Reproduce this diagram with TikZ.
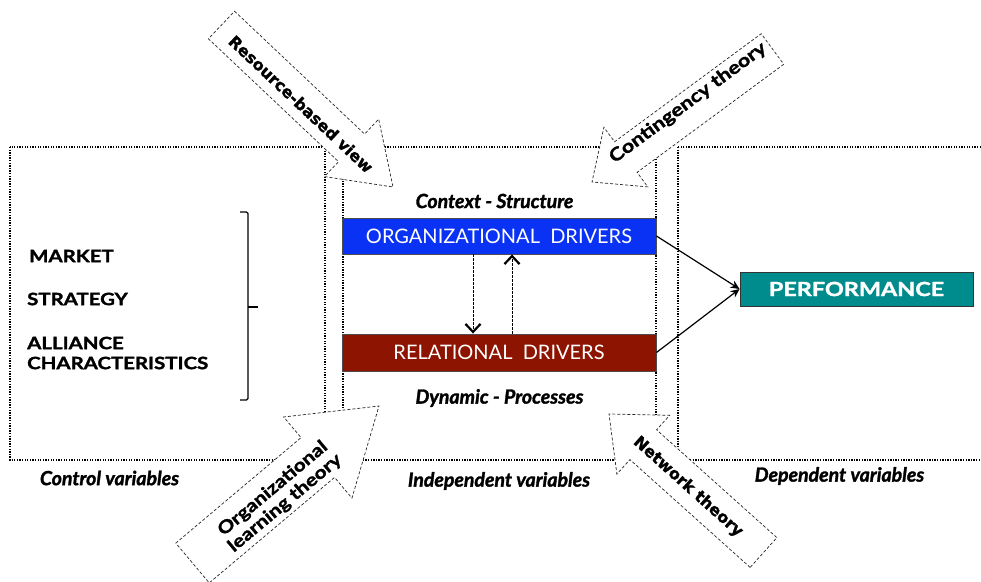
\documentclass[tikz,border=0pt]{standalone}
\usepackage{fontspec}
\setmainfont{Lato}[BoldFeatures={FakeBold=1.6}, BoldItalicFeatures={FakeBold=1.6}]
\newfontfamily\widefont{Lato}[FakeStretch=1.2, BoldFeatures={FakeBold=1.6}]
\newfontfamily\dejavubold{DejaVu Sans Bold}[FakeBold=1.3]
\usetikzlibrary{calc,arrows.meta}

\definecolor{orgblue}{RGB}{10,50,245}
\definecolor{reldred}{RGB}{140,20,0}
\definecolor{perfteal}{RGB}{0,140,140}

% hollow dashed block arrow: #1 tail centre, #2 tip, #3 half shaft width,
% #4 half head width, #5 head length
\newcommand\drawblockarrow[5]{%
  \coordinate (#1-n) at ($(#2)!#5!(#1)$);
  \path[theoryarrow]
    ($(#1)!#3!90:(#2)$) -- ($(#1-n)!#3!90:(#2)$) -- ($(#1-n)!#4!90:(#2)$)
    -- (#2)
    -- ($(#1-n)!#4!-90:(#2)$) -- ($(#1-n)!#3!-90:(#2)$) -- ($(#1)!#3!-90:(#2)$)
    -- cycle;
}

\tikzset{
  varframe/.style={line width=1.3pt, dash pattern=on 1.3pt off 1.3pt},
  theoryarrow/.style={draw=black!85, fill=white, line width=0.7pt,
    dash pattern=on 3pt off 2pt},
  theorytext/.style={align=center, inner sep=1pt},
  driverbox/.style={draw=black!70, line width=0.9pt, minimum width=314pt,
    text=white, font=\fontsize{20}{22}\selectfont},
  sidelabel/.style={font=\widefont\bfseries\fontsize{17}{19}\selectfont,
    anchor=west, inner sep=0pt},
  caption/.style={font=\bfseries\itshape\fontsize{19.5}{21}\selectfont},
  linkarrow/.style={line width=1.2pt, -{Stealth[length=9pt,width=8pt]}},
  feedback/.style={line width=0.8pt, dash pattern=on 2.5pt off 1.5pt,
    -{Straight Barb[length=8pt,width=15pt,line width=2.2pt]}},
}

\begin{document}
\begin{tikzpicture}[x=1pt,y=-1pt]
\useasboundingbox (0,0) rectangle (981,581);
\clip (0,0) rectangle (981,581);

% variable frames
\draw[varframe] (10,147) rectangle (325,460);
\draw[varframe] (343,147) rectangle (656,460);
\draw[varframe] (678,147) rectangle (1000,460);

% theory arrows
\coordinate (rbvT) at (221.5,25);   \coordinate (rbvP) at (393,187);
\coordinate (conT) at (772.5,49);   \coordinate (conP) at (592,182);
\coordinate (oltT) at (192.5,563);  \coordinate (oltP) at (379,406);
\coordinate (netT) at (763.5,552.5);\coordinate (netP) at (609,414);
\drawblockarrow{rbvT}{rbvP}{19pt}{39.5pt}{57pt}
\drawblockarrow{conT}{conP}{19pt}{37pt}{42pt}
\drawblockarrow{oltT}{oltP}{26pt}{53pt}{80pt}
\drawblockarrow{netT}{netP}{20pt}{39.5pt}{46pt}

\node[theorytext, rotate=-43.3, font=\dejavubold\fontsize{16}{17}\selectfont]
  (rbv) at (301,104) {Resource-based view};
\node[theorytext, rotate=36.5, font=\widefont\bfseries\fontsize{18}{20}\selectfont]
  (con) at (688,103) {Contingency theory};
\node[theorytext, rotate=40, font=\widefont\bfseries\fontsize{17.5}{19}\selectfont]
  (olt) at (279,496) {Organizational\\learning theory};
\node[theorytext, rotate=-41.9, font=\dejavubold\fontsize{16}{17}\selectfont]
  (net) at (688,487) {Network theory};

% control variables
\node[sidelabel] (market) at (29,256) {MARKET};
\node[sidelabel] (strategy) at (27,299) {STRATEGY};
\node[sidelabel] (alliance) at (27,343) {ALLIANCE};
\node[sidelabel] (charact) at (27,363) {CHARACTERISTICS};
\draw[line width=1.3pt, rounded corners=1.5pt]
  (240,212) -- (248,212) -- (248,400) -- (240,400);
\draw[line width=1.3pt] (248,307) -- (258,307);

% drivers
\node[driverbox, fill=orgblue, minimum height=36pt] (org) at (499,236)
  {ORGANIZATIONAL\ \ DRIVERS};
\node[driverbox, fill=reldred, minimum height=37pt] (rel) at (499,352.5)
  {RELATIONAL\ \ DRIVERS};
\node[caption] (ctx) at (494.5,201) {Context - Structure};
\node[caption] (dyn) at (499.5,398) {Dynamic - Processes};

\draw[feedback] (org.south -| 473,0) -- (rel.north -| 473,0);
\draw[feedback] (rel.north -| 512,0) -- (org.south -| 512,0);

% outcome
\node[draw=black!80, line width=0.9pt, fill=perfteal, text=white,
  minimum width=233pt, minimum height=34pt,
  font=\widefont\bfseries\fontsize{19.5}{22}\selectfont] (perf) at (856.5,289) {PERFORMANCE};
\draw[linkarrow] (org.east) -- (perf.west);
\draw[linkarrow] (rel.east) -- (perf.west);

% column captions
\node[caption] (ctrl) at (109.5,478) {Control variables};
\node[caption] (indep) at (499,481) {Independent variables};
\node[caption] (dep) at (839.5,476) {Dependent variables};
\end{tikzpicture}
\end{document}
